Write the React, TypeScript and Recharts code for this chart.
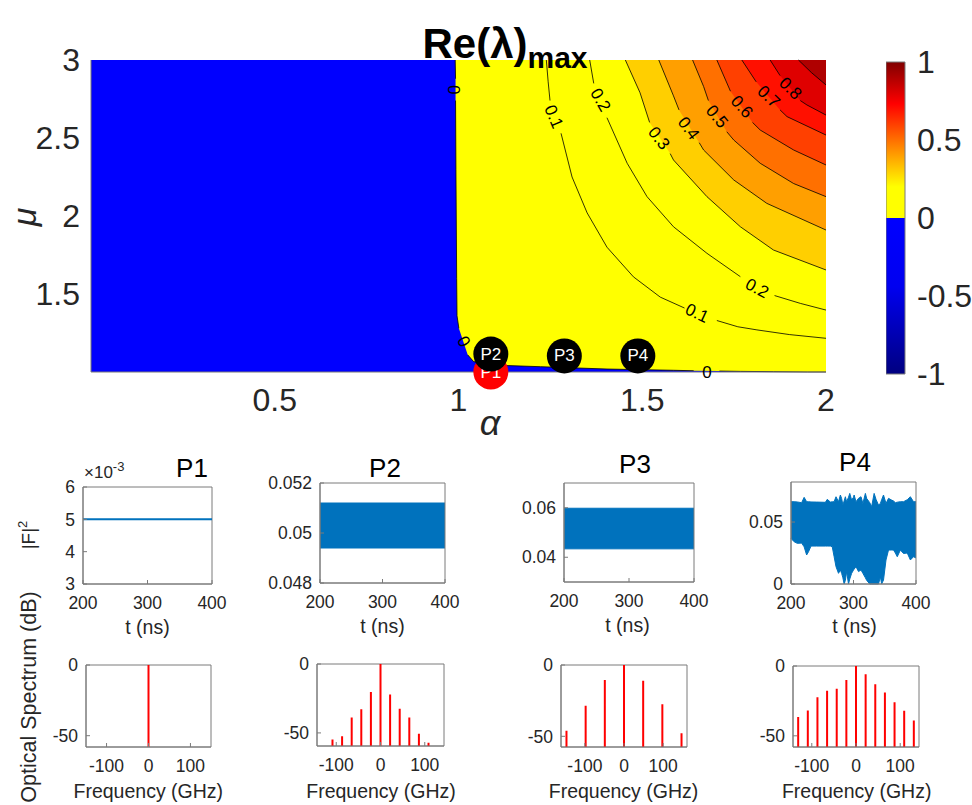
import React from 'react';
import { ComposedChart, XAxis, YAxis, Area, Line, Scatter, ReferenceArea } from 'recharts';

const FONT = '"Liberation Sans", Arial, Helvetica, sans-serif';
const INK = '#262626';
const FRAME = '#7a7a7a';
const MBLUE = '#0072bd';
const SRED = '#ff0000';

// ================= top map: Re(lambda)max over (alpha, mu) =================
const alphaDomain = [0, 2];
const muDomain = [1, 3];
const alphaTicks = [0.5, 1, 1.5, 2];
const muTicks = [1.5, 2, 2.5, 3];
const colorbarDomain = [-1, 1];
const colorbarTicks = [-1, -0.5, 0, 0.5, 1];

const contourLevels = [0, 0.1, 0.2, 0.3, 0.4, 0.5, 0.6, 0.7, 0.8, 0.9];

// contour lines as [alpha, mu]; null mu = gap where the inline label sits
const contour00 = [[0.991, 3.0], [0.992, 2.88], [0.992, null], [0.992, 2.74], [0.993, 2.3], [0.995, 1.6], [0.996, 1.36], [1.001, 1.28], [1.01, null], [1.025, 1.11], [1.041, 1.067], [1.087, 1.045], [1.223, 1.034], [1.404, 1.019], [1.585, 1.011], [1.64, 1.008], [1.676, null], [1.71, 1.006], [1.767, 1.004], [1.857, 1.002], [1.95, 1.0], [2.0, 1.0]];
const contour01 = [[1.239, 3.0], [1.244, 2.86], [1.249, 2.74], [1.262, null], [1.279, 2.53], [1.309, 2.25], [1.35, 2.02], [1.404, 1.8], [1.476, 1.61], [1.549, 1.48], [1.615, 1.41], [1.65, null], [1.703, 1.33], [1.76, 1.29], [1.812, 1.27], [1.9, 1.24], [2.0, 1.216]];
const contour02 = [[1.357, 3.0], [1.368, 2.85], [1.386, null], [1.404, 2.63], [1.459, 2.338], [1.513, 2.124], [1.585, 1.931], [1.676, 1.761], [1.767, 1.611], [1.812, null], [1.86, 1.49], [1.93, 1.44], [2.0, 1.397]];
const contour03 = [[1.454, 3.0], [1.494, 2.79], [1.52, 2.6], [1.545, null], [1.576, 2.4], [1.585, 2.359], [1.676, 2.124], [1.767, 1.931], [1.857, 1.782], [2.0, 1.654]];
const contour04 = [[1.545, 3.0], [1.585, 2.77], [1.6, 2.68], [1.626, null], [1.655, 2.47], [1.667, 2.423], [1.749, 2.231], [1.839, 2.081], [2.0, 1.91]];
const contour05 = [[1.637, 3.0], [1.667, 2.83], [1.68, 2.74], [1.703, null], [1.73, 2.54], [1.749, 2.487], [1.821, 2.338], [1.912, 2.208], [2.0, 2.124]];
const contour06 = [[1.703, 3.0], [1.74, 2.8], [1.771, null], [1.8, 2.6], [1.821, 2.551], [1.912, 2.423], [2.0, 2.327]];
const contour07 = [[1.771, 3.0], [1.81, 2.86], [1.844, null], [1.875, 2.68], [1.894, 2.637], [2.0, 2.519]];
const contour08 = [[1.848, 3.0], [1.875, 2.9], [1.903, null], [1.93, 2.74], [1.948, 2.712], [2.0, 2.647]];
const contour09 = [[1.925, 3.0], [1.96, 2.92], [2.0, 2.84]];
const contours = [contour00, contour01, contour02, contour03, contour04, contour05, contour06, contour07, contour08, contour09];

// region below the 0 level (whole plane, painted first)
const negativeRegion = [[alphaDomain[0], muDomain[0]], [alphaDomain[1], muDomain[0]]];

// inline contour labels
const labelAlpha = [0.987, 1.014, 1.676, 1.259, 1.649, 1.386, 1.812, 1.545, 1.626, 1.703, 1.771, 1.844, 1.903];
const labelMu = [2.81, 1.195, 1.0, 2.637, 1.376, 2.744, 1.536, 2.498, 2.562, 2.637, 2.7, 2.765, 2.818];
const labelText = ['0', '0', '0', '0.1', '0.1', '0.2', '0.2', '0.3', '0.4', '0.5', '0.6', '0.7', '0.8'];
const labelAngle = [90, 60, 0, 67, 25, 60, 28, 52, 53, 50, 48, 44, 45];

// operating points
const pointNames = ['P1', 'P2', 'P3', 'P4'];
const pointAlpha = [1.088, 1.088, 1.288, 1.488];
const pointMu = [1.0, 1.115, 1.103, 1.103];
const pointFill = ['#ff0000', '#000000', '#000000', '#000000'];

// colours of the filled bands (lower level of each band)
const levelFills = ['#ffff00', '#ffff00', '#ffff00', '#ffcf00', '#ff9f00', '#ff7000', '#ff4000', '#ff1000', '#df0000', '#af0000'];

// ================= time traces |F|^2 =================
const timeDomain = [200, 400];
const timeTicks = [200, 300, 400];

const p1Time = [200, 400];
const p1Power = [0.005, 0.005];

const p2Time = [200, 400];
const p2Low = [0.0494, 0.0494];
const p2High = [0.0512, 0.0512];

const p3Time = [200, 400];
const p3Low = [0.0434, 0.0434];
const p3High = [0.0598, 0.0598];

const p4Time = [200, 205, 210, 217, 221, 225, 228, 232, 241, 255, 258, 263, 266, 269, 272, 276, 279, 281, 283, 285, 287, 289, 292, 294, 297, 300, 301, 304, 308, 312, 315, 319, 321, 326, 329, 333, 336, 340, 343, 345, 348, 352, 356, 361, 364, 367, 370, 375, 380, 386, 391, 396, 400];
const p4High = [0.0664, 0.0664, 0.0662, 0.0656, 0.0699, 0.0664, 0.0664, 0.0662, 0.0661, 0.0659, 0.0683, 0.0661, 0.0663, 0.0664, 0.0704, 0.0664, 0.0718, 0.069, 0.0637, 0.067, 0.0704, 0.0664, 0.07, 0.0731, 0.0677, 0.07, 0.0718, 0.0664, 0.0691, 0.0704, 0.065, 0.0731, 0.0691, 0.0656, 0.0624, 0.0731, 0.0683, 0.0637, 0.065, 0.068, 0.0718, 0.065, 0.0691, 0.0677, 0.067, 0.0656, 0.066, 0.0664, 0.0664, 0.068, 0.0704, 0.0664, 0.0664];
const p4Low = [0.0368, 0.0341, 0.0328, 0.033, 0.03, 0.0234, 0.026, 0.0306, 0.0306, 0.0306, 0.0306, 0.0306, 0.03, 0.022, 0.014, 0.0086, 0.0113, 0.0086, 0.005, 0.0, 0.003, 0.01, 0.0, 0.004, 0.0086, 0.0113, 0.012, 0.014, 0.01, 0.0113, 0.0086, 0.005, 0.003, 0.0, 0.0, 0.0, 0.0, 0.0, 0.0059, 0.0, 0.0032, 0.0194, 0.0274, 0.0274, 0.0274, 0.025, 0.022, 0.0274, 0.0246, 0.025, 0.0194, 0.022, 0.021];

// ================= optical spectra (dB) =================
const specTicks = [-100, 0, 100];
const dbTicks = [-50, 0];

const s1Freq = [0];
const s1Db = [0];
const s2Freq = [-108.5, -86.8, -65.1, -43.4, -21.7, 0, 21.7, 43.4, 65.1, 86.8, 108.5];
const s2Db = [-54.7, -52.5, -38.8, -32.8, -20.3, 0, -22.1, -32.4, -38.8, -50.7, -57.1];
const s3Freq = [-147, -98, -49, 0, 49, 98, 147];
const s3Db = [-46.1, -28.5, -10.5, 0, -11, -27.6, -47.9];
const s4Freq = [-130.8, -109, -87.2, -65.4, -43.6, -21.8, 0, 21.8, 43.6, 65.4, 87.2, 109, 130.8];
const s4Db = [-36.5, -31.9, -22.4, -17.7, -16.3, -10.1, 0, -5.9, -13, -18.9, -25.9, -32.1, -39];

// ---------------- helpers ----------------
const toRows = (c: any[]) => c.map(([a, m]) => ({ a, m }));
const labelRows = labelText.map((t, i) => ({ a: labelAlpha[i], m: labelMu[i], t, rot: labelAngle[i] }));
const pointRows = pointNames.map((n, i) => ({ a: pointAlpha[i], m: pointMu[i], n, fill: pointFill[i] }));

function Txt({ x, y, size, rot = 0, bold = false, italic = false, color = '#000', children }: any) {
  return (
    <div
      style={{
        position: 'absolute', left: x, top: y,
        transform: `translate(-50%, -50%) rotate(${rot}deg)`,
        fontFamily: FONT, fontSize: size, fontWeight: bold ? 'bold' : 'normal',
        fontStyle: italic ? 'italic' : 'normal', color, whiteSpace: 'nowrap', lineHeight: 1,
      }}
    >
      {children}
    </div>
  );
}

const LabelShape = (p: any) => (
  <text
    x={p.cx} y={p.cy}
    transform={`rotate(${p.payload.rot} ${p.cx} ${p.cy})`}
    textAnchor="middle" dominantBaseline="central"
    fontSize={17} fontFamily={FONT} fill="#000"
  >
    {p.payload.t}
  </text>
);

const PointShape = (p: any) => (
  <g>
    <circle cx={p.cx} cy={p.cy} r={17.5} fill={p.payload.fill} />
    <text x={p.cx} y={p.cy} textAnchor="middle" dominantBaseline="central" fontSize={17} fontFamily={FONT} fill="#fff">
      {p.payload.n}
    </text>
  </g>
);

const LP = 75, TP = 14, RP = 32, XH = 60;
const smallTick = { fill: INK, fontSize: 17.5, fontFamily: FONT };

function Frame({ box, xKey, xDom, xTicks, yDom, yTicks, yFmt, children }: any) {
  const [x0, y0, x1, y1] = box;
  const w = LP + (x1 - x0) + RP;
  const h = TP + (y1 - y0) + XH;
  return (
    <div style={{ position: 'absolute', left: x0 - LP, top: y0 - TP }}>
      <ComposedChart width={w} height={h} margin={{ top: TP, right: RP, bottom: 0, left: 0 }}>
        <XAxis
          type="number" dataKey={xKey} domain={xDom} ticks={xTicks} interval={0} height={XH}
          tickSize={-4} tickMargin={17} tickLine={{ stroke: FRAME }} axisLine={{ stroke: FRAME }} tick={smallTick}
        />
        <YAxis
          type="number" domain={yDom} ticks={yTicks} interval={0} width={LP} tickFormatter={yFmt}
          tickSize={-4} tickMargin={12} tickLine={{ stroke: FRAME }} axisLine={{ stroke: FRAME }} tick={smallTick}
        />
        {children}
        <ReferenceArea x1={xDom[0]} x2={xDom[1]} y1={yDom[0]} y2={yDom[1]} fill="none" fillOpacity={0} stroke={FRAME} strokeOpacity={1} />
      </ComposedChart>
    </div>
  );
}

function bandRows(t: number[], lo: number[], hi: number[]) {
  return t.map((tt, i) => ({ t: tt, r: [lo[i], hi[i]] }));
}

function spikeRows(freq: number[], db: number[], floor: number) {
  const rows: any[] = [];
  freq.forEach((f, i) => {
    rows.push({ f, v: floor });
    rows.push({ f, v: db[i] });
    rows.push({ f, v: null });
  });
  return rows;
}

const timeBoxes = [[83, 487, 212, 584], [320, 483, 445, 583], [564, 483, 694, 582], [791, 482, 916, 584]];
const specBoxes = [[86, 665, 211, 747], [317, 664, 444, 746], [561, 665, 687, 747], [793, 666, 919, 747]];
const specXDomains = [[-149, 149], [-143.5, 143.5], [-161, 161], [-142.5, 142.5]];
const specYDomains = [[-58, 0], [-59.5, 0], [-57.5, 0], [-58, 0]];
const specData = [[s1Freq, s1Db], [s2Freq, s2Db], [s3Freq, s3Db], [s4Freq, s4Db]];

export default function App() {
  const fmtNum = (v: number) => String(v);
  return (
    <div style={{ position: 'absolute', left: 0, top: 0, width: 972, height: 805, background: '#fff', overflow: 'hidden' }}>
      {/* ---------- main map ---------- */}
      <div style={{ position: 'absolute', left: 0, top: 0 }}>
        <ComposedChart width={850} height={445} margin={{ top: 60, right: 24, bottom: 0, left: 0 }}>
          <XAxis
            type="number" dataKey="a" domain={alphaDomain} ticks={alphaTicks} interval={0} height={73}
            tickLine={false} tickSize={0} tickMargin={16} axisLine={{ stroke: FRAME }}
            tick={{ fill: INK, fontSize: 32, fontFamily: FONT }} tickFormatter={fmtNum}
          />
          <YAxis
            type="number" domain={muDomain} ticks={muTicks} interval={0} width={91}
            tickLine={false} tickSize={0} tickMargin={11} axisLine={{ stroke: FRAME }}
            tick={{ fill: INK, fontSize: 32, fontFamily: FONT }} tickFormatter={fmtNum}
          />
          <Area data={toRows(negativeRegion)} dataKey="m" baseValue={muDomain[1]} fill="#0000ff" fillOpacity={1} stroke="none" dot={false} activeDot={false} isAnimationActive={false} />
          {contours.map((c, i) => (
            <Area key={'f' + i} data={toRows(c)} dataKey="m" baseValue={muDomain[1]} connectNulls fill={levelFills[i]} fillOpacity={1} stroke="none" dot={false} activeDot={false} isAnimationActive={false} />
          ))}
          {contours.map((c, i) => (
            <Line key={'l' + i} data={toRows(c)} dataKey="m" stroke="#000" strokeWidth={0.8} dot={false} activeDot={false} connectNulls={false} isAnimationActive={false} />
          ))}
          <Scatter data={labelRows} dataKey="m" shape={LabelShape} isAnimationActive={false} />
          <Scatter data={pointRows} dataKey="m" shape={PointShape} isAnimationActive={false} />
        </ComposedChart>
      </div>

      {/* ---------- colorbar ---------- */}
      <div style={{ position: 'absolute', left: 886, top: 0 }}>
        <ComposedChart width={86} height={404} margin={{ top: 62, right: 0, bottom: 30, left: 0 }}>
          <defs>
            <linearGradient id="cbarGrad" x1="0" y1="0" x2="0" y2="1">
              <stop offset="0" stopColor="#800000" />
              <stop offset="0.134" stopColor="#ff0000" />
              <stop offset="0.267" stopColor="#ff8000" />
              <stop offset="0.4" stopColor="#ffff00" />
              <stop offset="0.5" stopColor="#ffff00" />
              <stop offset="0.5" stopColor="#0000ff" />
              <stop offset="0.72" stopColor="#0000f0" />
              <stop offset="1" stopColor="#000080" />
            </linearGradient>
          </defs>
          <XAxis type="number" dataKey="x" domain={[0, 1]} hide />
          <YAxis
            type="number" orientation="right" domain={colorbarDomain} ticks={colorbarTicks} interval={0} width={67}
            tickLine={false} tickSize={0} tickMargin={12} axisLine={false}
            tick={{ fill: INK, fontSize: 32, fontFamily: FONT, textAnchor: 'start' }} tickFormatter={fmtNum}
          />
          <Area data={[{ x: 0, v: colorbarDomain[1] }, { x: 1, v: colorbarDomain[1] }]} dataKey="v" baseValue={colorbarDomain[0]} fill="url(#cbarGrad)" fillOpacity={1} stroke="none" dot={false} activeDot={false} isAnimationActive={false} />
          <ReferenceArea x1={0} x2={1} y1={colorbarDomain[0]} y2={colorbarDomain[1]} fill="none" fillOpacity={0} stroke={FRAME} strokeOpacity={1} />
        </ComposedChart>
      </div>

      {/* main labels */}
      <div style={{ position: 'absolute', left: 505, top: 44, transform: 'translate(-50%, -50%)', fontFamily: FONT, fontWeight: 'bold', whiteSpace: 'nowrap', lineHeight: 1, color: '#000' }}>
        <span style={{ fontSize: 42 }}>Re(λ)</span>
        <span style={{ fontSize: 30, position: 'relative', top: 10 }}>max</span>
      </div>
      <Txt x={490} y={423} size={36} italic color={INK}>α</Txt>
      <Txt x={24} y={217} size={34} rot={-90} italic color={INK}>μ</Txt>

      {/* ---------- time traces ---------- */}
      <Frame box={timeBoxes[0]} xKey="t" xDom={timeDomain} xTicks={timeTicks} yDom={[0.003, 0.006]} yTicks={[0.003, 0.004, 0.005, 0.006]} yFmt={(v: number) => String(Math.round(v * 1000))}>
        <Line data={p1Time.map((t, i) => ({ t, v: p1Power[i] }))} dataKey="v" stroke={MBLUE} strokeWidth={2} dot={false} activeDot={false} isAnimationActive={false} />
      </Frame>
      <Frame box={timeBoxes[1]} xKey="t" xDom={timeDomain} xTicks={timeTicks} yDom={[0.048, 0.052]} yTicks={[0.048, 0.05, 0.052]} yFmt={fmtNum}>
        <Area data={bandRows(p2Time, p2Low, p2High)} dataKey="r" fill={MBLUE} fillOpacity={1} stroke={MBLUE} strokeWidth={1} dot={false} activeDot={false} isAnimationActive={false} />
      </Frame>
      <Frame box={timeBoxes[2]} xKey="t" xDom={timeDomain} xTicks={timeTicks} yDom={[0.03, 0.07]} yTicks={[0.04, 0.06]} yFmt={fmtNum}>
        <Area data={bandRows(p3Time, p3Low, p3High)} dataKey="r" fill={MBLUE} fillOpacity={1} stroke={MBLUE} strokeWidth={1} dot={false} activeDot={false} isAnimationActive={false} />
      </Frame>
      <Frame box={timeBoxes[3]} xKey="t" xDom={timeDomain} xTicks={timeTicks} yDom={[0, 0.0823]} yTicks={[0, 0.05]} yFmt={fmtNum}>
        <Area data={bandRows(p4Time, p4Low, p4High)} dataKey="r" fill={MBLUE} fillOpacity={1} stroke={MBLUE} strokeWidth={1} dot={false} activeDot={false} isAnimationActive={false} />
      </Frame>

      {/* ---------- spectra ---------- */}
      {specBoxes.map((b, i) => (
        <Frame key={'s' + i} box={b} xKey="f" xDom={specXDomains[i]} xTicks={specTicks} yDom={specYDomains[i]} yTicks={dbTicks} yFmt={fmtNum}>
          <Line data={spikeRows(specData[i][0], specData[i][1], specYDomains[i][0])} dataKey="v" stroke={SRED} strokeWidth={2} dot={false} activeDot={false} connectNulls={false} isAnimationActive={false} />
        </Frame>
      ))}

      {/* panel titles and labels */}
      <Txt x={192} y={468} size={26}>P1</Txt>
      <Txt x={385} y={468} size={26}>P2</Txt>
      <Txt x={635} y={464} size={26}>P3</Txt>
      <Txt x={855} y={462} size={26}>P4</Txt>
      <div style={{ position: 'absolute', left: 84, top: 460, fontFamily: FONT, fontSize: 17, color: INK, whiteSpace: 'nowrap', lineHeight: 1 }}>
        ×10<sup style={{ fontSize: 13 }}>-3</sup>
      </div>
      <Txt x={27} y={535} size={19} rot={-90} color={INK}>|F|<sup style={{ fontSize: 13 }}>2</sup></Txt>
      <Txt x={147.5} y={628} size={19.5} color={INK}>t (ns)</Txt>
      <Txt x={382.5} y={627} size={19.5} color={INK}>t (ns)</Txt>
      <Txt x={627.5} y={626} size={19.5} color={INK}>t (ns)</Txt>
      <Txt x={854.5} y={627} size={19.5} color={INK}>t (ns)</Txt>
      <Txt x={30} y={697} size={21.5} rot={-90} color={INK}>Optical Spectrum (dB)</Txt>
      <Txt x={148.3} y={791.7} size={19.5} color={INK}>Frequency (GHz)</Txt>
      <Txt x={381} y={791.7} size={19.5} color={INK}>Frequency (GHz)</Txt>
      <Txt x={623.5} y={791.7} size={19.5} color={INK}>Frequency (GHz)</Txt>
      <Txt x={856.7} y={791.7} size={19.5} color={INK}>Frequency (GHz)</Txt>
    </div>
  );
}
